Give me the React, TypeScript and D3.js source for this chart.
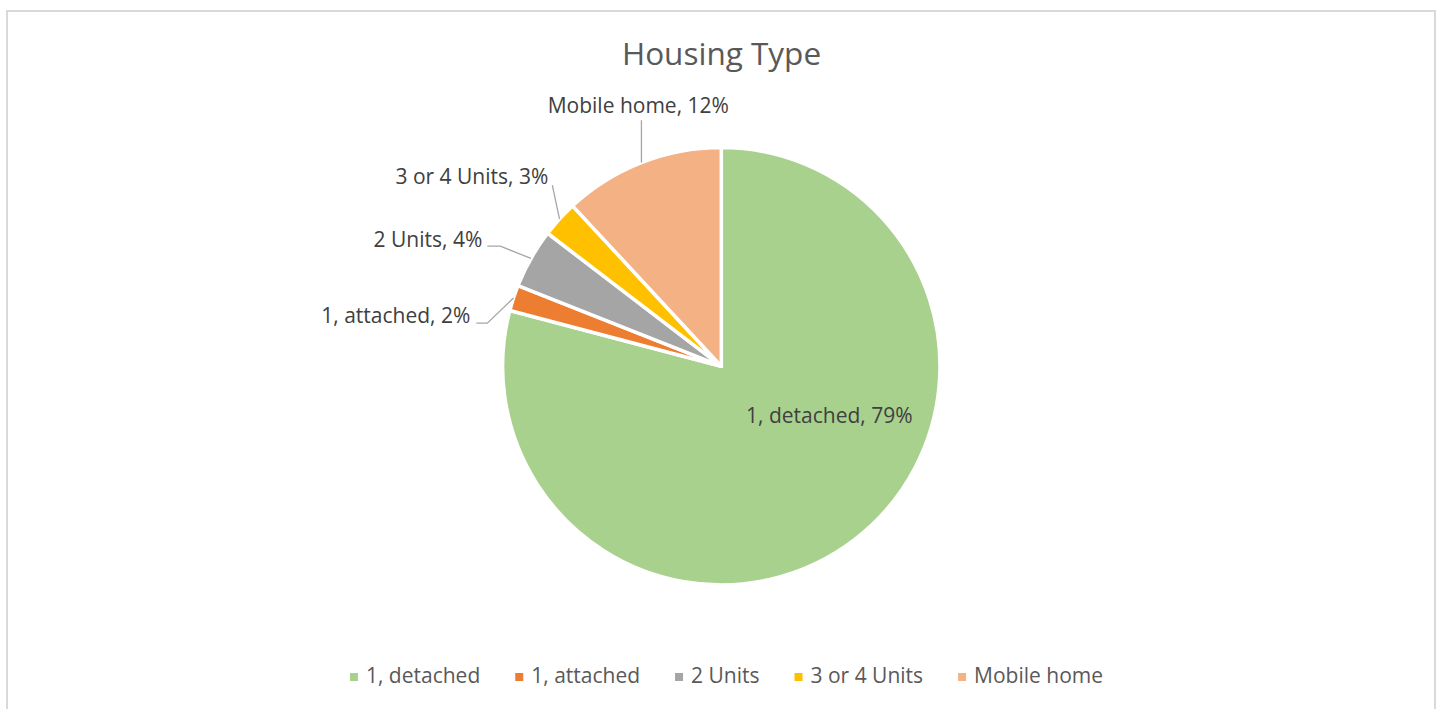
import React, { useRef, useEffect } from 'react';
import * as d3 from 'd3';

// chart data
const title = "Housing Type";
const categories = ["1, detached", "1, attached", "2 Units", "3 or 4 Units", "Mobile home"];
const shares = [79.1, 1.9, 4.4, 2.7, 11.9];
const colors = ["#A9D18E", "#ED7D31", "#A5A5A5", "#FFC000", "#F4B183"];

// label placement, relative to the pie centre (dx/dy of the text anchor, elbow of the leader)
const labelSpots = [
  { dx: 108, dy: 57, anchor: "middle", inside: true },
  { dx: -251, dy: -43, anchor: "end", elbow: [-234, -43], end: [-245, -43] },
  { dx: -239, dy: -119, anchor: "end", elbow: [-221, -120], end: [-234, -120] },
  { dx: -173, dy: -182, anchor: "end", end: [-169, -181] },
  { dx: -83, dy: -253, anchor: "middle", vertical: -246 },
];

const W = 1440;
const H = 709;
const FONT = "'Open Sans', sans-serif";

function HousingPie() {
  const svgRef = useRef(null);

  useEffect(() => {
    const svg = d3.select(svgRef.current);
    svg.selectAll("*").remove();

    // chart frame
    svg.append("rect")
      .attr("x", 7).attr("y", 11)
      .attr("width", 1428).attr("height", 800)
      .attr("fill", "#fff")
      .attr("stroke", "#D9D9D9")
      .attr("stroke-width", 2);

    svg.append("text")
      .attr("x", 721.5).attr("y", 65)
      .attr("text-anchor", "middle")
      .attr("font-family", FONT)
      .attr("font-size", 31.5)
      .attr("fill", "#595959")
      .text(title);

    const cx = 721.3, cy = 366.2, r = 218.7;
    const data = categories.map((c, i) => ({ name: c, value: shares[i], color: colors[i] }));

    const pie = d3.pie().value(d => d.value).sort(null);
    const arcs = pie(data);
    const arc = d3.arc().innerRadius(0).outerRadius(r);
    const rim = d3.arc().innerRadius(r).outerRadius(r);

    const g = svg.append("g").attr("transform", `translate(${cx},${cy})`);

    g.selectAll("path.slice")
      .data(arcs)
      .enter()
      .append("path")
      .attr("class", "slice")
      .attr("d", arc)
      .attr("fill", d => d.data.color)
      .attr("stroke", "#fff")
      .attr("stroke-width", 3.5)
      .attr("stroke-linejoin", "round");

    // leader lines
    arcs.forEach((a, i) => {
      const s = labelSpots[i];
      if (s.inside) return;
      const [px, py] = rim.centroid(a);
      let pts;
      if (s.vertical !== undefined) {
        pts = [[px, py], [px, s.vertical]];
      } else if (s.elbow) {
        pts = [[px, py], s.elbow, s.end];
      } else {
        pts = [[px, py], s.end];
      }
      g.append("path")
        .attr("d", d3.line()(pts))
        .attr("fill", "none")
        .attr("stroke", "#A6A6A6")
        .attr("stroke-width", 1.3);
    });

    // data labels
    g.selectAll("text.lbl")
      .data(arcs)
      .enter()
      .append("text")
      .attr("class", "lbl")
      .attr("x", (d, i) => labelSpots[i].dx)
      .attr("y", (d, i) => labelSpots[i].dy)
      .attr("text-anchor", (d, i) => labelSpots[i].anchor)
      .attr("font-family", FONT)
      .attr("font-size", 21)
      .attr("fill", "#404040")
      .text(d => `${d.data.name}, ${Math.round(d.data.value)}%`);

    // legend, centred under the pie
    const legend = svg.append("g");
    let x = 0;
    data.forEach(d => {
      const item = legend.append("g").attr("transform", `translate(${x},0)`);
      item.append("rect")
        .attr("x", 0).attr("y", -10)
        .attr("width", 8).attr("height", 8)
        .attr("fill", d.color);
      const t = item.append("text")
        .attr("x", 16).attr("y", 0)
        .attr("font-family", FONT)
        .attr("font-size", 21)
        .attr("fill", "#595959")
        .text(d.name);
      x += 16 + t.node().getComputedTextLength() + 35;
    });
    const legendWidth = x - 35;
    legend.attr("transform", `translate(${726.5 - legendWidth / 2},683)`);
  }, []);

  return (
    <svg
      ref={svgRef}
      width={W}
      height={H}
      style={{ position: "absolute", left: 0, top: 0, background: "#fff" }}
    />
  );
}

export default function App() {
  return <HousingPie />;
}
